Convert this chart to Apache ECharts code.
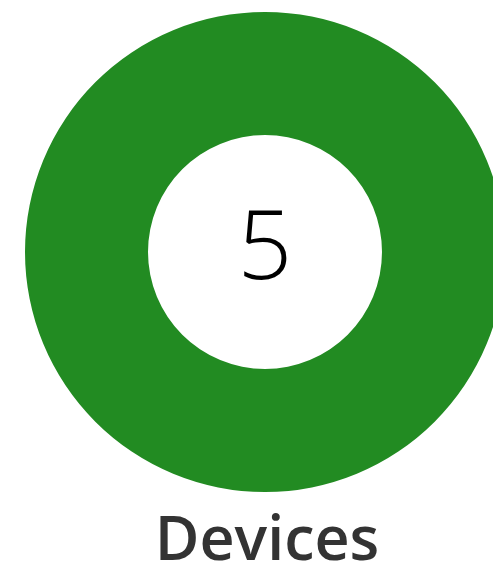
<!DOCTYPE html>
<html>
<head>
<meta charset="utf-8">
<style>
  html, body { margin: 0; padding: 0; background: #ffffff; }
  #chart { width: 493px; height: 577px; }
</style>
<script src="https://cdn.jsdelivr.net/npm/echarts@6/dist/echarts.min.js"></script>
</head>
<body>
<div id="chart"></div>
<script>
// Device count shown as a single-slice donut
const categories = ['Devices'];
const values = [5];
const sliceColors = ['#228B22'];

const chart = echarts.init(document.getElementById('chart'), null, { renderer: 'canvas' });

chart.setOption({
  animation: false,
  backgroundColor: '#ffffff',
  title: {
    text: categories[0],
    left: 262,
    textAlign: 'center',
    top: 507,
    textStyle: {
      fontFamily: 'Open Sans',
      fontSize: 61,
      fontWeight: 600,
      color: '#333333'
    }
  },
  series: [{
    type: 'pie',
    center: [265, 252],
    radius: [117, 240],
    silent: true,
    label: {
      show: true,
      position: 'center',
      formatter: (p) => String(p.value),
      fontFamily: 'Open Sans',
      fontSize: 96,
      fontWeight: 300,
      color: '#000000'
    },
    labelLine: { show: false },
    data: categories.map((name, i) => ({
      name,
      value: values[i],
      itemStyle: { color: sliceColors[i] }
    }))
  }]
});
</script>
</body>
</html>
